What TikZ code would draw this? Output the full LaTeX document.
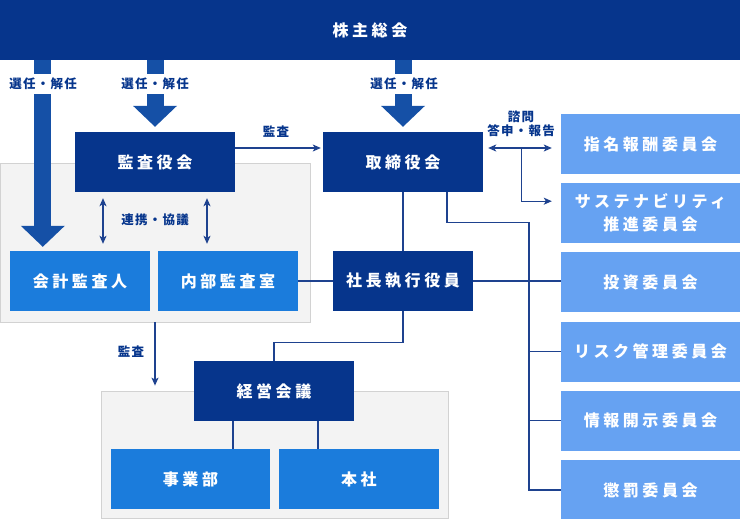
\documentclass[tikz,border=0pt]{standalone}
\usepackage{fontspec}
\setmainfont{Noto Sans CJK JP}
\newfontfamily\boxfont{Noto Sans CJK JP}[LetterSpace=22]
\newfontfamily\lblfont{Noto Sans CJK JP}[LetterSpace=10]
\usetikzlibrary{arrows.meta,positioning,calc,fit}
\definecolor{navy}{HTML}{06358C}
\definecolor{shaftblue}{HTML}{1550A6}
\definecolor{midblue}{HTML}{1B7CDC}
\definecolor{lightblue}{HTML}{66A2F2}
\definecolor{linecol}{HTML}{1E428F}
\definecolor{grpfill}{HTML}{F3F3F3}
\definecolor{grpline}{HTML}{D2D2D2}

\begin{document}
\begin{tikzpicture}[
  x=1pt, y=-1pt,
  node distance=8.8pt,
  every node/.style={inner sep=0pt},
  box/.style={minimum height=60pt,text=white,align=center,font=\boxfont\bfseries\fontsize{16}{23}\selectfont},
  darkbox/.style={box,fill=navy,minimum width=160pt},
  midbox/.style={box,fill=midblue,minimum width=140pt},
  comitbox/.style={box,fill=lightblue,minimum width=179pt},
  grp/.style={draw=grpline,fill=grpfill,line width=0.8pt},
  lbl/.style={text=navy,align=center,font=\lblfont\bfseries\fontsize{12.5}{14.5}\selectfont},
  sel/.style={lbl,fill=white,inner xsep=2pt,inner ysep=4pt},
  bigarr/.style={draw=shaftblue,line width=17pt,-{Triangle[length=21pt,width=44pt,line width=0pt,fill=shaftblue]}},
  line/.style={draw=linecol,line width=1.1pt},
  arr/.style={line,-{Stealth[length=8pt,width=7pt,inset=2pt]}},
  dblarr/.style={line,{Stealth[length=8pt,width=7pt,inset=2pt]}-{Stealth[length=8pt,width=7pt,inset=2pt]}}
]
\useasboundingbox (0,0) rectangle (740,519);

% groups behind the boxes
\node[grp,fit={(0,163)(310,322)}] (upper) {};
\node[grp,fit={(101,391)(448,518)}] (lower) {};

\node[fill=navy,minimum width=740pt,minimum height=60pt,text=white,font=\boxfont\bfseries\fontsize{16}{18}\selectfont] (soukai) at (370,30) {株主総会};

\node[darkbox] (kansa) at (155,162) {監査役会};
\node[darkbox] (tori) at (403,162) {取締役会};
\node[midbox] (kaikei) at (80,281) {会計監査人};
\node[midbox] (naibu) at (228,281) {内部監査室};
\node[darkbox,minimum width=140pt] (shacho) at (403,281) {社長執行役員};
\node[darkbox] (keiei) at (274,391) {経営会議};
\node[midbox,minimum width=159pt] (jigyo) at (190.5,479) {事業部};
\node[midbox,minimum width=160pt] (honsha) at (359,479) {本社};

\node[comitbox] (c1) at (650.5,144) {指名報酬委員会};
\node[comitbox,below=of c1] (c2) {サステナビリティ\\推進委員会};
\node[comitbox,below=of c2] (c3) {投資委員会};
\node[comitbox,below=of c3] (c4) {リスク管理委員会};
\node[comitbox,below=of c4] (c5) {情報開示委員会};
\node[comitbox,below=of c5] (c6) {懲罰委員会};

% thick arrows from the banner
\coordinate (k1) at ([xshift=33pt]kaikei.north west);
\draw[bigarr,shorten >=4pt] (k1 |- soukai.south) -- (k1);
\draw[bigarr,shorten >=5pt] (kansa.north |- soukai.south) -- (kansa.north);
\draw[bigarr,shorten >=5pt] (tori.north |- soukai.south) -- (tori.north);
\node[sel] (sel1) at (43,84) {選任・解任};
\node[sel] (sel2) at (155,84) {選任・解任};
\node[sel] (sel3) at (404,84) {選任・解任};

% audit and cooperation
\coordinate (kr) at ([yshift=14pt]kansa.east);
\draw[arr,shorten >=2pt] (kr) -- (kr -| tori.west);
\node[lbl] (kansalbl) at (276,132) {監査};
\coordinate (ka) at ([xshift=-52pt]kansa.south);
\coordinate (kb) at ([xshift=52pt]kansa.south);
\draw[dblarr,shorten <=6pt,shorten >=7pt] (ka) -- (ka |- kaikei.north);
\draw[dblarr,shorten <=6pt,shorten >=7pt] (kb) -- (kb |- naibu.north);
\node[lbl] (renkei) at (155,220) {連携・協議};
\draw[arr,shorten >=5pt] (upper.south) -- (upper.south |- lower.north);
\node[lbl] (kansalbl2) at (131,352) {監査};

% board and committees
\coordinate (ta) at ([yshift=14pt]tori.east);
\draw[dblarr,shorten <=5pt,shorten >=9pt] (ta) -- (ta -| c1.west);
\coordinate (brk) at ([xshift=38pt]ta);
\draw[arr,shorten >=9pt] (brk) |- ([yshift=12pt]c2.west);
\node[lbl] (shimon) at (521,124) {諮問\\答申・報告};
\coordinate (td) at ([xshift=44pt]tori.south);
\coordinate (bus) at ($(td)+(82,30)$);
\draw[line] (td) |- (bus) -- (bus |- c6.west) -- (c6.west);
\draw[line] (bus |- c4.west) -- (c4.west);
\draw[line] (bus |- c5.west) -- (c5.west);

% executive line
\draw[line] (tori.south) -- (shacho.north);
\draw[line] (naibu.east) -- (shacho.west);
\draw[line] (shacho.east) -- (shacho.east -| c3.west);
\draw[line] (shacho.south) -- ++(0,31) -| (keiei.north);
\coordinate (kl) at ([xshift=-41pt]keiei.south);
\coordinate (kh) at ([xshift=44pt]keiei.south);
\draw[line] (kl) -- (kl |- jigyo.north);
\draw[line] (kh) -- (kh |- honsha.north);
\end{tikzpicture}
\end{document}
